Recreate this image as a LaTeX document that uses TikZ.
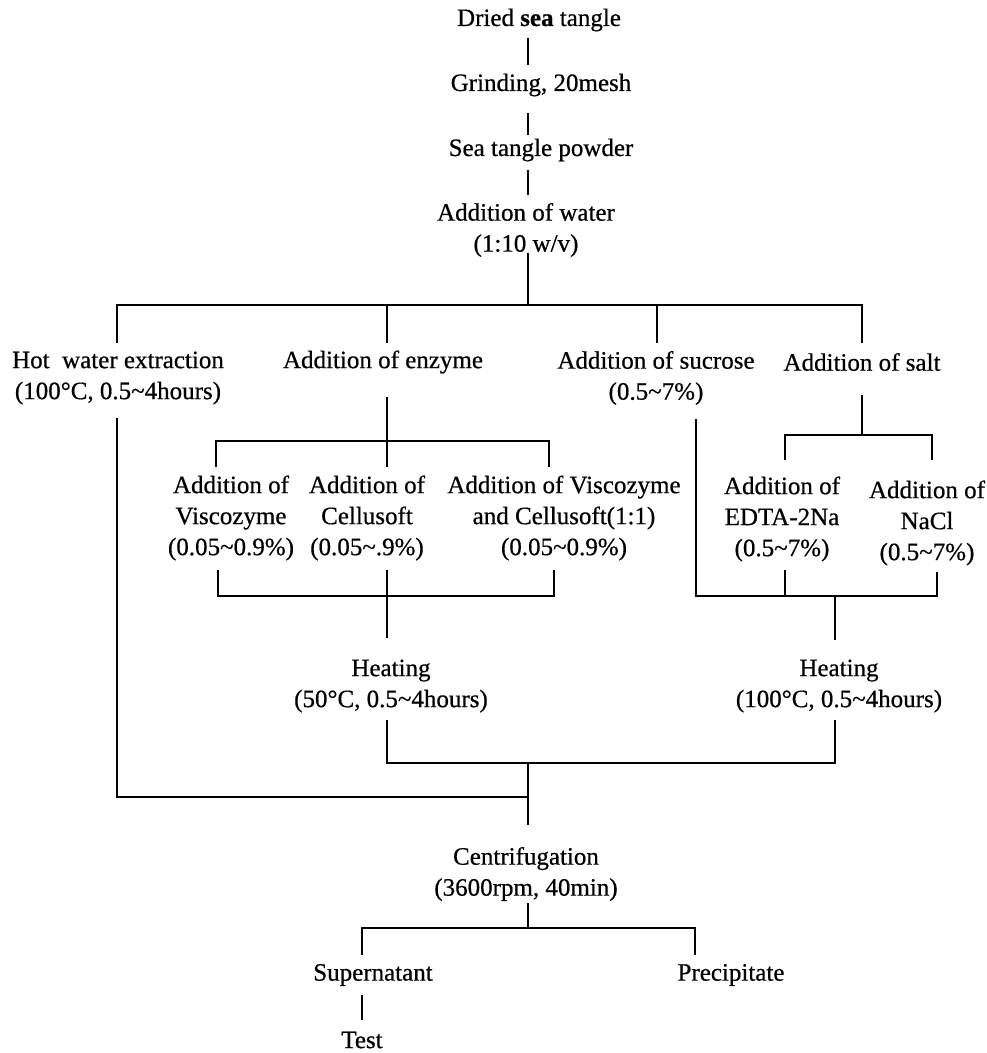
\documentclass[tikz,border=0pt]{standalone}
\usepackage{fontspec}
\setmainfont{Liberation Serif}[FakeBold=0.6]
\begin{document}
\begin{tikzpicture}[x=1pt,y=-1pt,
  lbl/.style={align=center, font=\fontsize{25}{31}\selectfont, inner sep=0pt},
  conn/.style={line width=1.8pt, line cap=butt, line join=miter}]
\useasboundingbox (0,0) rectangle (987,1053);
% text nodes
\node[lbl] (dried)  at (539,20)  {Dried \textbf{sea} tangle};
\node[lbl] (grind)  at (541,85)  {Grinding, 20mesh};
\node[lbl] (powder) at (541,150) {Sea tangle powder};
\node[lbl] (water)  at (526,230) {Addition of water\\(1:10 w/v)};
\node[lbl] (hot)    at (118,378) {Hot\ \ water extraction\\(100\textdegree C, 0.5\char"007E 4hours)};
\node[lbl] (enzyme) at (383,362) {Addition of enzyme};
\node[lbl] (sucrose) at (656,378) {Addition of sucrose\\(0.5\char"007E 7\%)};
\node[lbl] (salt)   at (862,362) {Addition of salt};
\node[lbl] (visc)   at (231,518) {Addition of\\Viscozyme\\(0.05\char"007E 0.9\%)};
\node[lbl] (cell)   at (367,518) {Addition of\\Cellusoft\\(0.05\char"007E.9\%)};
\node[lbl] (both)   at (564,518) {Addition of Viscozyme\\and Cellusoft(1:1)\\(0.05\char"007E 0.9\%)};
\node[lbl] (edta)   at (782,519) {Addition of\\EDTA-2Na\\(0.5\char"007E 7\%)};
\node[lbl] (nacl)   at (927,523) {Addition of\\NaCl\\(0.5\char"007E 7\%)};
\node[lbl] (heatL)  at (391,686) {Heating\\(50\textdegree C, 0.5\char"007E 4hours)};
\node[lbl] (heatR)  at (839,686) {Heating\\(100\textdegree C, 0.5\char"007E 4hours)};
\node[lbl] (cent)   at (526,874) {Centrifugation\\(3600rpm, 40min)};
\node[lbl] (super)  at (373,975) {Supernatant};
\node[lbl] (precip) at (731,975) {Precipitate};
\node[lbl] (test)   at (362,1040) {Test};
% junction coordinates
\coordinate (a1) at (528,38);  \coordinate (a2) at (528,65);
\coordinate (b1) at (528,113); \coordinate (b2) at (528,135);
\coordinate (c1) at (528,170); \coordinate (c2) at (528,195);
\coordinate (d1) at (528,253); \coordinate (d2) at (528,305);
\coordinate (hL) at (117,305); \coordinate (hR) at (862,305);
\coordinate (t1) at (117,343); \coordinate (t2) at (387,343);
\coordinate (t3) at (657,343); \coordinate (t4) at (862,343);
\coordinate (t2u) at (387,305); \coordinate (t3u) at (657,305);
% hot water path
\coordinate (hw1) at (117,418); \coordinate (hw2) at (117,797); \coordinate (hw3) at (528,797);
% enzyme
\coordinate (e1) at (387,397); \coordinate (e2) at (387,467);
\coordinate (eL) at (216,441); \coordinate (eLd) at (216,467);
\coordinate (eR) at (549,441); \coordinate (eRd) at (549,467);
\coordinate (f1) at (218,570); \coordinate (f2) at (218,596);
\coordinate (f3) at (554,596); \coordinate (f4) at (554,570);
\coordinate (fm1) at (387,570); \coordinate (fm2) at (387,638);
% heating merge
\coordinate (g1) at (387,720); \coordinate (g2) at (387,763);
\coordinate (g3) at (835,763); \coordinate (g4) at (835,720);
\coordinate (gm1) at (528,763); \coordinate (gm2) at (528,825);
% salt
\coordinate (s1) at (862,395); \coordinate (s2) at (862,435);
\coordinate (sL) at (785,435); \coordinate (sLd) at (785,460);
\coordinate (sR) at (932,435); \coordinate (sRd) at (932,460);
% sucrose and salt merge
\coordinate (u1) at (696,419); \coordinate (u2) at (696,596);
\coordinate (u3) at (937,596); \coordinate (u4) at (937,572);
\coordinate (v1) at (785,570); \coordinate (v2) at (785,596);
\coordinate (w1) at (835,596); \coordinate (w2) at (835,640);
% centrifugation
\coordinate (k1) at (528,903); \coordinate (k2) at (528,928);
\coordinate (kL) at (362,955); \coordinate (kLu) at (362,928);
\coordinate (kR) at (695,955); \coordinate (kRu) at (695,928);
\coordinate (m1) at (362,995); \coordinate (m2) at (362,1020);
% connectors
\draw[conn] (a1) -- (a2);
\draw[conn] (b1) -- (b2);
\draw[conn] (c1) -- (c2);
\draw[conn] (d1) -- (d2);
\draw[conn] (t1) -- (hL) -- (hR) -- (t4);
\draw[conn] (t2u) -- (t2);
\draw[conn] (t3u) -- (t3);
\draw[conn] (hw1) -- (hw2) -- (hw3);
\draw[conn] (e1) -- (e2);
\draw[conn] (eLd) -- (eL) -- (eR) -- (eRd);
\draw[conn] (f1) -- (f2) -- (f3) -- (f4);
\draw[conn] (fm1) -- (fm2);
\draw[conn] (g1) -- (g2) -- (g3) -- (g4);
\draw[conn] (gm1) -- (gm2);
\draw[conn] (s1) -- (s2);
\draw[conn] (sLd) -- (sL) -- (sR) -- (sRd);
\draw[conn] (u1) -- (u2) -- (u3) -- (u4);
\draw[conn] (v1) -- (v2);
\draw[conn] (w1) -- (w2);
\draw[conn] (k1) -- (k2);
\draw[conn] (kL) -- (kLu) -- (kRu) -- (kR);
\draw[conn] (m1) -- (m2);
\end{tikzpicture}
\end{document}
